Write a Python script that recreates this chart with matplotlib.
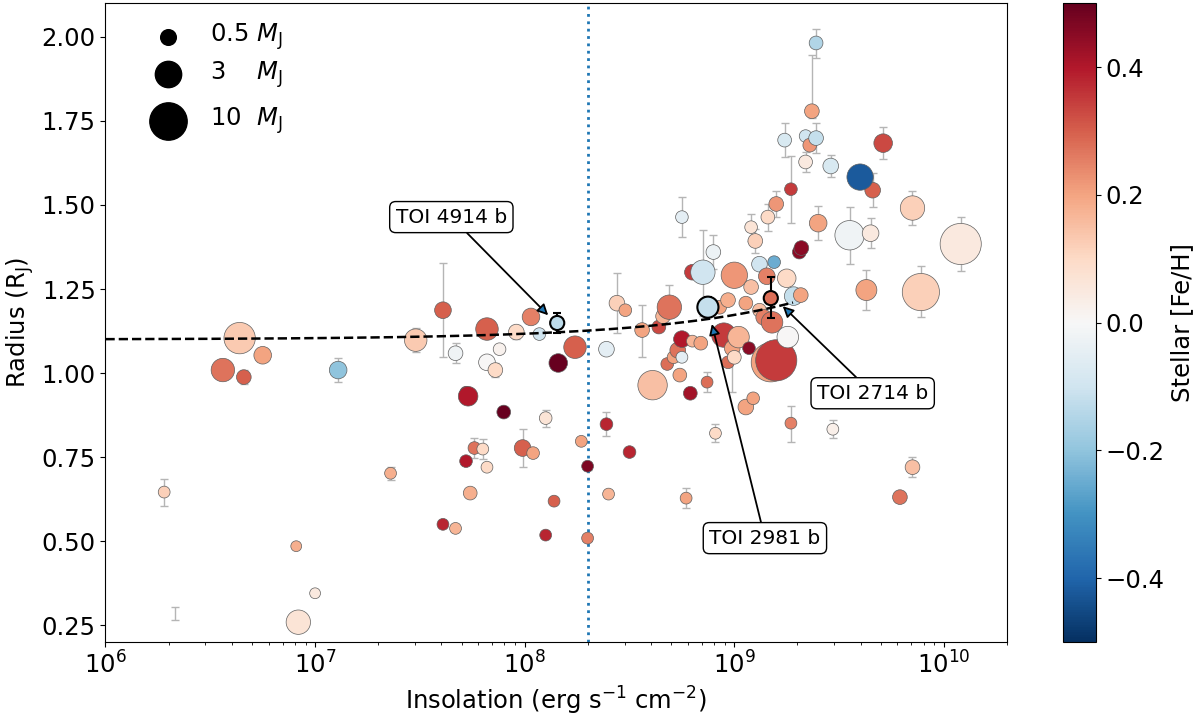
import numpy as np
import matplotlib
matplotlib.use('Agg')
import matplotlib.pyplot as plt
from matplotlib.colors import Normalize
from matplotlib.cm import ScalarMappable

# ---------------- data ----------------
log_insol = [6.28, 6.56, 6.64, 6.66, 6.75, 6.91, 6.92, 7.00, 7.11, 7.36,
             7.48, 7.61, 7.61, 7.67, 7.67, 7.72, 7.73, 7.72, 7.74, 7.76,
             7.80, 7.82, 7.82, 7.82, 7.86, 7.88, 7.90, 7.96, 7.99, 8.03,
             8.04, 8.07, 8.10, 8.10, 8.14, 8.16, 8.24, 8.27, 8.30, 8.30,
             8.39, 8.39, 8.40, 8.44, 8.48, 8.50, 8.56, 8.61, 8.64, 8.66,
             8.68, 8.69, 8.71, 8.73, 8.74, 8.75, 8.75, 8.75, 8.77, 8.79,
             8.80, 8.80, 8.84, 8.85, 8.87, 8.90, 8.91, 8.93, 8.95, 8.97,
             8.97, 8.99, 9.00, 9.00, 9.02, 9.055, 9.055, 9.07, 9.08, 9.09,
             9.12, 9.12, 9.14, 9.155, 9.18, 9.19, 9.174, 9.20, 9.25, 9.255,
             9.27, 9.283, 9.317, 9.31, 9.27, 9.20, 9.16, 9.08, 9.10, 9.32,
             9.40, 9.55, 9.65, 9.85, 10.08, 9.63, 9.89, 9.47, 9.85, 9.79,
             9.39, 9.37, 9.24, 9.34, 9.36, 9.39, 9.34, 9.46, 9.71, 9.66,
             9.60]
radius = [0.646, 1.009, 1.104, 0.988, 1.053, 0.485, 0.259, 0.345, 1.009, 0.702,
          1.098, 1.187, 0.550, 0.538, 1.059, 0.943, 0.931, 0.738, 0.643, 0.777,
          0.774, 1.032, 1.131, 0.720, 1.009, 1.071, 0.884, 1.122, 0.777, 1.167,
          0.762, 1.116, 0.866, 0.518, 0.619, 1.030, 1.077, 0.797, 0.723, 0.509,
          0.848, 1.071, 0.640, 1.208, 1.187, 0.765, 1.128, 0.964, 1.137, 1.169,
          1.027, 1.196, 1.047, 1.068, 0.994, 1.464, 1.101, 1.047, 0.628, 0.940,
          1.095, 1.300, 1.089, 1.300, 0.973, 1.360, 0.821, 1.196, 1.113, 1.217,
          1.032, 1.074, 1.291, 1.047, 1.107, 1.208, 0.899, 1.074, 1.256, 0.925,
          1.187, 1.324, 1.166, 1.288, 1.151, 1.330, 1.032, 1.038, 1.282, 1.107,
          0.851, 1.229, 1.232, 1.360, 1.547, 1.503, 1.464, 1.434, 1.393, 1.372,
          1.446, 1.410, 1.416, 1.491, 1.384, 1.247, 1.241, 0.833, 0.720, 0.631,
          1.982, 1.779, 1.693, 1.705, 1.678, 1.699, 1.628, 1.616, 1.684, 1.544,
          1.583]
mass = [0.19, 2.0, 5.5, 0.40, 0.75, 0.14, 2.3, 0.14, 0.75, 0.19,
        1.75, 0.62, 0.19, 0.19, 0.40, 0.19, 1.08, 0.24, 0.32, 0.24,
        0.19, 0.62, 1.75, 0.19, 0.40, 0.24, 0.32, 0.50, 0.62, 0.75,
        0.24, 0.24, 0.24, 0.19, 0.19, 0.90, 1.75, 0.19, 0.19, 0.19,
        0.24, 0.50, 0.19, 0.50, 0.24, 0.24, 0.40, 4.4, 0.32, 0.40,
        0.24, 2.3, 0.24, 0.50, 0.32, 0.24, 0.62, 0.19, 0.19, 0.32,
        0.19, 0.50, 0.32, 2.3, 0.19, 0.40, 0.19, 0.32, 2.3, 0.40,
        0.24, 0.50, 3.0, 0.32, 1.5, 0.32, 0.50, 0.24, 0.40, 0.24,
        0.32, 0.50, 0.50, 0.62, 1.5, 0.24, 11.8, 14.0, 0.90, 1.5,
        0.19, 0.90, 0.40, 0.32, 0.24, 0.40, 0.32, 0.24, 0.40, 0.40,
        0.75, 4.4, 0.62, 2.3, 14.0, 1.37, 9.9, 0.19, 0.40, 0.40,
        0.32, 0.40, 0.32, 0.24, 0.32, 0.40, 0.32, 0.50, 0.90, 0.50,
        3.0]
feh = [0.12, 0.27, 0.13, 0.30, 0.20, 0.18, 0.07, 0.05, -0.20, 0.18,
       0.13, 0.30, 0.38, 0.17, -0.02, 0.42, 0.40, 0.40, 0.18, 0.27,
       0.10, 0.00, 0.30, 0.10, 0.10, 0.02, 0.50, 0.10, 0.30, 0.25,
       0.20, -0.10, 0.07, 0.38, 0.30, 0.50, 0.30, 0.20, 0.47, 0.25,
       0.38, -0.05, 0.17, 0.12, 0.20, 0.38, 0.20, 0.15, 0.33, 0.17,
       0.28, 0.27, 0.20, 0.27, 0.20, -0.05, 0.40, -0.05, 0.20, 0.42,
       0.17, 0.35, 0.20, -0.10, 0.28, -0.03, 0.10, 0.20, 0.35, 0.18,
       0.28, 0.20, 0.22, 0.10, 0.17, 0.20, 0.20, 0.45, 0.15, 0.20,
       0.15, -0.10, 0.25, 0.25, 0.27, -0.25, 0.20, 0.35, 0.10, 0.00,
       0.25, -0.12, 0.20, 0.45, 0.35, 0.22, 0.10, 0.07, 0.12, 0.45,
       0.20, -0.02, 0.05, 0.12, 0.05, 0.20, 0.12, 0.03, 0.15, 0.27,
       -0.15, 0.20, -0.08, -0.10, 0.22, -0.12, 0.05, -0.08, 0.33, 0.30,
       -0.42]
rad_err_lo = [0.04, 0, 0, 0.02, 0, 0, 0, 0, 0.035, 0.02,
              0.035, 0.14, 0, 0, 0.03, 0, 0, 0, 0.01, 0.03,
              0.03, 0, 0, 0, 0.02, 0, 0, 0.02, 0.057, 0,
              0, 0, 0.025, 0, 0, 0, 0, 0, 0.01, 0.01,
              0.035, 0, 0, 0.09, 0, 0.01, 0.08, 0, 0, 0,
              0, 0.02, 0, 0, 0, 0.06, 0, 0, 0.03, 0,
              0, 0, 0, 0.13, 0.03, 0.05, 0.027, 0, 0, 0,
              0, 0.13, 0, 0, 0, 0, 0.01, 0, 0, 0,
              0, 0, 0, 0, 0, 0, 0, 0, 0, 0,
              0.055, 0, 0, 0, 0.10, 0.04, 0.04, 0.04, 0.035, 0,
              0.05, 0.085, 0.045, 0.05, 0.08, 0.06, 0.075, 0.027, 0.03, 0,
              0.045, 0.02, 0.05, 0, 0, 0.045, 0.03, 0.033, 0.048, 0.05,
              0]
rad_err_hi = [0.04, 0, 0, 0.02, 0, 0, 0, 0, 0.035, 0.02,
              0.035, 0.14, 0, 0, 0.03, 0, 0, 0, 0.01, 0.03,
              0.03, 0, 0, 0, 0.02, 0, 0, 0.02, 0.057, 0,
              0, 0, 0.025, 0, 0, 0, 0, 0, 0.01, 0.01,
              0.035, 0, 0, 0.09, 0, 0.01, 0.075, 0, 0, 0,
              0, 0.065, 0, 0, 0, 0.06, 0, 0, 0.03, 0,
              0, 0, 0, 0.125, 0.03, 0.05, 0.027, 0, 0, 0,
              0, 0.04, 0, 0, 0, 0, 0.01, 0, 0, 0,
              0, 0, 0, 0, 0, 0, 0, 0, 0, 0,
              0.052, 0, 0, 0, 0.10, 0.04, 0.04, 0.04, 0.035, 0,
              0.05, 0.085, 0.045, 0.05, 0.08, 0.06, 0.078, 0.027, 0.03, 0,
              0.042, 0.167, 0.05, 0, 0, 0.045, 0.03, 0.033, 0.048, 0.05,
              0]

# planet with radius error bar but no plotted marker
bare_log_insol = [6.33]
bare_radius = [0.284]
bare_err = [0.02]

# highlighted planets
hl_names = ['TOI 4914 b', 'TOI 2981 b', 'TOI 2714 b']
hl_log_insol = [8.155, 8.874, 9.174]
hl_radius = [1.149, 1.196, 1.223]
hl_mass = [0.35, 1.4, 0.35]
hl_feh = [-0.13, -0.12, 0.28]
hl_err_lo = [0.03, 0.03, 0.06]
hl_err_hi = [0.03, 0.03, 0.062]
arrow_log_insol = [8.112, 8.893, 9.231]
arrow_radius = [1.172, 1.146, 1.199]
label_log_insol = [7.65, 9.146, 9.66]
label_radius = [1.464, 0.509, 0.940]

# radius-insolation trend (R = a + b*(F/1e9)^c)
fit_a, fit_b, fit_c = 1.10, 0.073, 0.633
fit_log_range = [6.0, 9.28]
split_insolation = 2e8

legend_masses = [0.5, 3, 10]
legend_labels = [r'0.5 $M_{\rm J}$', r'3    $M_{\rm J}$', r'10  $M_{\rm J}$']

# ---------------- plotting ----------------
FS = 17.5
plt.rcParams['font.family'] = ['DejaVu Sans']

def msize(m):
    return 190.0 * np.asarray(m, dtype=float) ** 0.58

fig = plt.figure(figsize=(12, 7.17), dpi=100)
ax = fig.add_axes([0.0879, 0.1046, 0.7513, 0.8908])
cax = fig.add_axes([0.8858, 0.1046, 0.0275, 0.8908])

cmap = plt.get_cmap('RdBu_r')
norm = Normalize(vmin=-0.5, vmax=0.5)

F = 10 ** np.array(log_insol)
R = np.array(radius)
elo = np.array(rad_err_lo)
ehi = np.array(rad_err_hi)
has_err = (elo > 0) | (ehi > 0)

ax.errorbar(F[has_err], R[has_err], yerr=[elo[has_err], ehi[has_err]], fmt='none',
            ecolor='#b5b5b5', elinewidth=1.0, capsize=3, capthick=1.0, zorder=1)
ax.errorbar(10 ** np.array(bare_log_insol), bare_radius, yerr=bare_err, fmt='none',
            ecolor='#b5b5b5', elinewidth=1.0, capsize=3, capthick=1.0, zorder=1)

ax.scatter(F, R, s=msize(mass), c=feh, cmap=cmap, norm=norm,
           edgecolors='#606060', linewidths=0.5, zorder=2)

# trend line
fx = np.logspace(fit_log_range[0], fit_log_range[1], 300)
ax.plot(fx, fit_a + fit_b * (fx / 1e9) ** fit_c, 'k--', lw=1.8, zorder=3)

ax.axvline(split_insolation, color='#1f77b4', ls=':', lw=2.0, zorder=0)

# highlighted
hF = 10 ** np.array(hl_log_insol)
ax.errorbar(hF, hl_radius, yerr=[hl_err_lo, hl_err_hi], fmt='none', ecolor='black',
            elinewidth=1.5, capsize=3, capthick=1.5, zorder=4)
ax.scatter(hF, hl_radius, s=msize(hl_mass), c=hl_feh, cmap=cmap, norm=norm,
           edgecolors='black', linewidths=1.5, zorder=5)

for name, ax_, ay, lx, ly in zip(hl_names, arrow_log_insol, arrow_radius,
                                  label_log_insol, label_radius):
    ax.annotate(name, xy=(10 ** ax_, ay), xytext=(10 ** lx, ly),
                ha='center', va='center', fontsize=14.5, zorder=6,
                bbox=dict(boxstyle='round,pad=0.3', fc='white', ec='black', lw=1.0),
                arrowprops=dict(arrowstyle='-|>', fc='#1f77b4', ec='black', lw=1.3,
                                mutation_scale=16, shrinkA=0, shrinkB=0))

ax.set_xscale('log')
ax.set_xlim(1e6, 2e10)
ax.set_ylim(0.2, 2.1)
ax.set_yticks([0.25, 0.5, 0.75, 1.0, 1.25, 1.5, 1.75, 2.0])
ax.set_yticklabels(['0.25', '0.50', '0.75', '1.00', '1.25', '1.50', '1.75', '2.00'])
ax.tick_params(labelsize=FS)
ax.set_xlabel(r'Insolation (erg s$^{-1}$ cm$^{-2}$)', fontsize=FS)
ax.set_ylabel(r'Radius (R$_{\rm J}$)', fontsize=FS)

# size legend (drawn in axes coordinates)
leg_marker_x = 0.0693
leg_text_x = 0.116
leg_rows_y = [0.947, 0.889, 0.816]
for m, lab, yy in zip(legend_masses, legend_labels, leg_rows_y):
    ax.scatter([leg_marker_x], [yy], s=msize(m), c='black', transform=ax.transAxes,
               zorder=6, clip_on=False)
    ax.text(leg_text_x, yy, lab, transform=ax.transAxes, fontsize=FS,
            ha='left', va='center', zorder=6)

sm = ScalarMappable(norm=norm, cmap=cmap)
cb = fig.colorbar(sm, cax=cax, ticks=[-0.4, -0.2, 0.0, 0.2, 0.4])
cb.ax.tick_params(labelsize=FS)
cb.set_label('Stellar [Fe/H]', fontsize=FS)

fig.savefig('out.png', dpi=100)
